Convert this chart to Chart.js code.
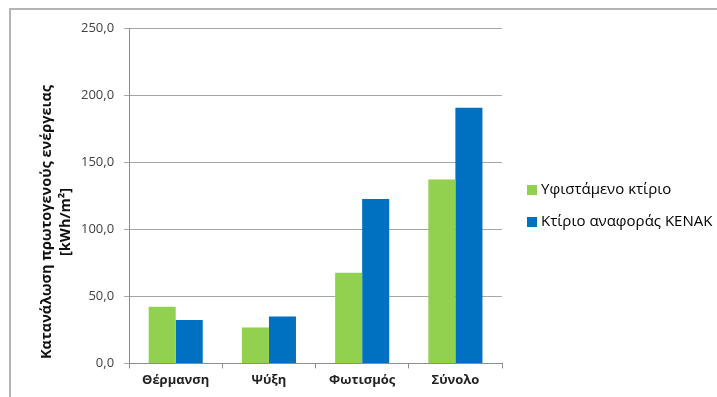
<!DOCTYPE html>
<html>
<head>
<meta charset="utf-8">
<script src="https://cdn.jsdelivr.net/npm/chart.js@4/dist/chart.umd.min.js"></script>
<style>
    body { margin: 0; background: #fff; }
    #frame { position: absolute; left: 9px; top: 8px; width: 708px; height: 389px;
             border-top: 2px solid #b4b4b4; border-left: 2px solid #b4b4b4; }
    #wrap { position: absolute; left: 0; top: 0; width: 717px; height: 397px; }
</style>
</head>
<body>
<div id="frame"></div>
<div id="wrap"><canvas id="energyChart" width="717" height="397"></canvas></div>
<script>
const categories = ['Θέρμανση', 'Ψύξη', 'Φωτισμός', 'Σύνολο'];
const seriesNames = ['Υφιστάμενο κτίριο', 'Κτίριο αναφοράς KENAK'];
const existingBuilding = [42.2, 26.8, 67.5, 137.0];
const referenceBuilding = [32.3, 35.0, 122.5, 190.5];
const yTicks = [0, 50, 100, 150, 200, 250];
const yTitle = ['Κατανάλωση πρωτογενούς ενέργειας', '[kWh/m²]'];

const green = '#92d050';
const blue = '#0070c0';

// legend drawn to the right of the plot, vertically around the middle
const sideLegend = {
    id: 'sideLegend',
    afterDraw(chart) {
        const ctx = chart.ctx;
        const x = chart.chartArea.right + 25;
        const yStart = 190;
        ctx.save();
        ctx.font = '15px "Open Sans", sans-serif';
        ctx.textBaseline = 'middle';
        chart.data.datasets.forEach((ds, i) => {
            const y = yStart + i * 32;
            ctx.fillStyle = ds.backgroundColor;
            ctx.fillRect(x, y - 5, 10, 10);
            ctx.fillStyle = '#000';
            ctx.fillText(ds.label, x + 14, y);
        });
        ctx.restore();
    }
};

// rotated axis title, sitting a bit lower than the plot centre
const sideTitle = {
    id: 'sideTitle',
    afterDraw(chart) {
        const ctx = chart.ctx;
        ctx.save();
        ctx.translate(47, 222);
        ctx.rotate(-Math.PI / 2);
        ctx.font = 'bold 14.5px "Open Sans", sans-serif';
        ctx.fillStyle = '#111';
        ctx.textAlign = 'center';
        ctx.textBaseline = 'middle';
        yTitle.forEach((line, i) => ctx.fillText(line, 0, i * 19));
        ctx.restore();
    }
};

const ctx = document.getElementById('energyChart').getContext('2d');
const chart = new Chart(ctx, {
    type: 'bar',
    data: {
        labels: categories,
        datasets: [{
            label: seriesNames[0],
            data: existingBuilding,
            backgroundColor: green
        },
        {
            label: seriesNames[1],
            data: referenceBuilding,
            backgroundColor: blue
        }]
    },
    options: {
        responsive: false,
        animation: false,
        layout: {
            padding: { top: 28, right: 215, left: 71, bottom: 5 }
        },
        datasets: {
            bar: { barPercentage: 1.0, categoryPercentage: 0.58 }
        },
        plugins: {
            legend: { display: false },
            tooltip: { enabled: false }
        },
        scales: {
            x: {
                grid: {
                    offset: true,
                    drawOnChartArea: false,
                    color: '#8c8c8c',
                    tickLength: 5
                },
                border: { color: '#8c8c8c' },
                ticks: {
                    color: '#222',
                    font: { family: 'Open Sans', size: 13, weight: 'bold' },
                    padding: 4
                }
            },
            y: {
                min: 0,
                max: 250,
                afterBuildTicks(axis) {
                    axis.ticks = yTicks.map(v => ({ value: v }));
                },
                grid: { color: '#a6a6a6', tickLength: 5 },
                border: { color: '#8c8c8c' },
                ticks: {
                    color: '#404040',
                    font: { family: 'Open Sans', size: 13 },
                    padding: 10,
                    callback: v => v.toFixed(1).replace('.', ',')
                }
            }
        }
    },
    plugins: [sideLegend, sideTitle]
});
</script>
</body>
</html>
